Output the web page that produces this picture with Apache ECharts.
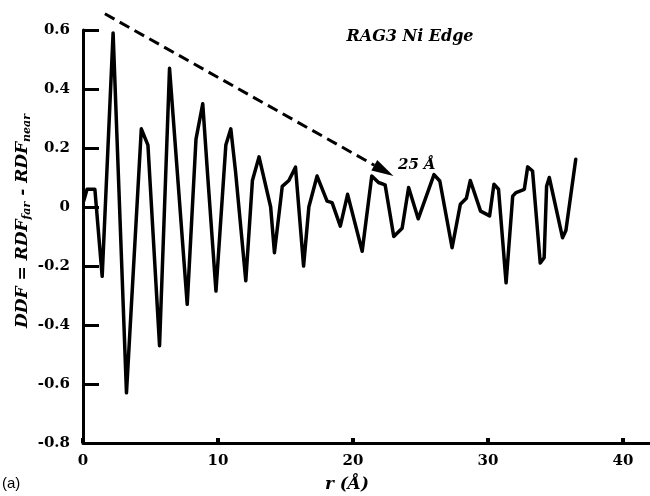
<!DOCTYPE html>
<html>
<head>
<meta charset="utf-8">
<script src="https://cdn.jsdelivr.net/npm/echarts@6/dist/echarts.min.js"></script>
<style>
  html, body { margin: 0; padding: 0; background: #fff; }
  #chart { width: 650px; height: 496px; }
</style>
</head>
<body>
<div id="chart"></div>
<script>
// Differential distribution function, RAG3 Ni edge: r (Å) vs DDF
const rValues = [
  0.05, 0.3, 0.88, 1.42, 2.23, 3.22, 4.32, 4.81, 5.67, 6.41,
  7.72, 8.37, 8.87, 9.23, 9.85, 10.58, 10.95, 11.3, 12.06, 12.55,
  13.04, 13.9, 14.18, 14.76, 15.25, 15.74, 16.34, 16.73, 17.34, 18.08,
  18.45, 19.06, 19.6, 20.68, 21.39, 21.89, 22.38, 23.02, 23.64, 24.12,
  24.83, 26.0, 26.43, 27.34, 27.95, 28.4, 28.69, 29.45, 30.12, 30.44,
  30.78, 31.34, 31.83, 32.08, 32.69, 32.94, 33.3, 33.87, 34.16, 34.34,
  34.54, 35.52, 35.77, 36.5
];
const ddfValues = [
  0.02, 0.06, 0.06, -0.235, 0.59, -0.63, 0.265, 0.21, -0.47, 0.47,
  -0.33, 0.23, 0.35, 0.11, -0.285, 0.21, 0.265, 0.12, -0.25, 0.09,
  0.17, 0.0, -0.155, 0.07, 0.09, 0.135, -0.2, 0.0, 0.105, 0.02,
  0.015, -0.065, 0.043, -0.15, 0.105, 0.083, 0.075, -0.1, -0.072, 0.066,
  -0.04, 0.11, 0.088, -0.138, 0.009, 0.03, 0.09, -0.014, -0.03, 0.077,
  0.06, -0.257, 0.037, 0.049, 0.06, 0.136, 0.122, -0.19, -0.172, 0.07,
  0.1, -0.104, -0.08, 0.162
];

// Dashed trend arrow (r, DDF) and its label
const arrowStart = [1.62, 0.655];
const arrowEnd = [23.0, 0.105];
const arrowLabel = '25 Å';

const xTicks = { min: 0, max: 42, interval: 10 };
const yTicks = { min: -0.8, max: 0.6, interval: 0.2 };

const curve = rValues.map((r, i) => [r, ddfValues[i]]);

const SERIF = '"DejaVu Serif", "Liberation Serif", serif';

// Dashed shaft with a filled arrowhead, positioned through the axes' scales
function renderArrow(params, api) {
  const p1 = api.coord([api.value(0), api.value(1)]);
  const p2 = api.coord([api.value(2), api.value(3)]);
  const dx = p2[0] - p1[0], dy = p2[1] - p1[1];
  const len = Math.sqrt(dx * dx + dy * dy);
  const ux = dx / len, uy = dy / len;
  const headLen = 22, headHalf = 6;
  const bx = p2[0] - ux * headLen, by = p2[1] - uy * headLen;
  return {
    type: 'group',
    children: [
      {
        type: 'line',
        shape: { x1: p1[0], y1: p1[1], x2: bx, y2: by },
        style: { stroke: '#000', lineWidth: 3, lineDash: [11, 6] }
      },
      {
        type: 'polygon',
        shape: {
          points: [
            [p2[0], p2[1]],
            [bx - uy * headHalf, by + ux * headHalf],
            [bx + uy * headHalf, by - ux * headHalf]
          ]
        },
        style: { fill: '#000' }
      }
    ]
  };
}

const chart = echarts.init(document.getElementById('chart'), null, { renderer: 'canvas' });

chart.setOption({
  animation: false,
  backgroundColor: '#fff',
  grid: { left: 83, top: 30, width: 570, height: 413, containLabel: false },
  xAxis: {
    type: 'value',
    min: xTicks.min, max: xTicks.max, interval: xTicks.interval,
    splitLine: { show: false },
    axisLine: { show: true, onZero: false, lineStyle: { color: '#000', width: 3 } },
    axisTick: { show: true, inside: true, length: 5, lineStyle: { color: '#000', width: 4 } },
    axisLabel: {
      color: '#000', fontFamily: SERIF, fontWeight: 'bold', fontSize: 15,
      margin: 11, showMaxLabel: false
    }
  },
  yAxis: {
    type: 'value',
    min: yTicks.min, max: yTicks.max, interval: yTicks.interval,
    splitLine: { show: false },
    axisLine: { show: true, onZero: false, lineStyle: { color: '#000', width: 3 } },
    axisTick: { show: true, inside: true, length: 16, lineStyle: { color: '#000', width: 3 } },
    axisLabel: {
      color: '#000', fontFamily: SERIF, fontWeight: 'bold', fontSize: 15,
      margin: 13,
      formatter: v => (Math.abs(v) < 1e-9 ? '0' : String(Math.round(v * 10) / 10))
    }
  },
  series: [
    {
      type: 'line',
      data: curve,
      symbol: 'none',
      smooth: false,
      clip: false,
      lineStyle: { color: '#000', width: 3.5, join: 'round', cap: 'round' }
    },
    {
      type: 'custom',
      silent: true,
      clip: false,
      renderItem: renderArrow,
      data: [[arrowStart[0], arrowStart[1], arrowEnd[0], arrowEnd[1]]]
    }
  ],
  graphic: [
    {
      type: 'text', x: 410, y: 37, silent: true,
      style: {
        text: 'RAG3 Ni Edge', fill: '#000',
        font: 'italic bold 16px ' + SERIF,
        align: 'center', verticalAlign: 'middle',
        textAlign: 'center', textVerticalAlign: 'middle'
      }
    },
    {
      type: 'text', x: 398, y: 165, silent: true,
      style: {
        text: arrowLabel, fill: '#000',
        font: 'italic bold 15px ' + SERIF,
        align: 'left', verticalAlign: 'middle',
        textAlign: 'left', textVerticalAlign: 'middle'
      }
    },
    {
      type: 'text', x: 347, y: 485, silent: true,
      style: {
        text: 'r (Å)', fill: '#000',
        font: 'italic bold 17px ' + SERIF,
        align: 'center', verticalAlign: 'middle',
        textAlign: 'center', textVerticalAlign: 'middle'
      }
    },
    {
      type: 'text', x: 2, y: 484, silent: true,
      style: {
        text: '(a)', fill: '#000',
        font: '15px "Liberation Sans", Arial, sans-serif',
        align: 'left', verticalAlign: 'middle',
        textAlign: 'left', textVerticalAlign: 'middle'
      }
    },
    {
      type: 'text', x: 23, y: 221, rotation: Math.PI / 2, silent: true,
      style: {
        text: '{m|DDF = RDF}{s|far}{m| - RDF}{s|near}',
        fill: '#000',
        align: 'center', verticalAlign: 'middle',
        textAlign: 'center', textVerticalAlign: 'middle',
        rich: {
          m: { fontFamily: SERIF, fontStyle: 'italic', fontWeight: 'bold', fontSize: 17, lineHeight: 20, fill: '#000', verticalAlign: 'middle' },
          s: { fontFamily: SERIF, fontStyle: 'italic', fontWeight: 'bold', fontSize: 11, lineHeight: 10, fill: '#000', verticalAlign: 'bottom' }
        }
      }
    }
  ]
});
</script>
</body>
</html>
